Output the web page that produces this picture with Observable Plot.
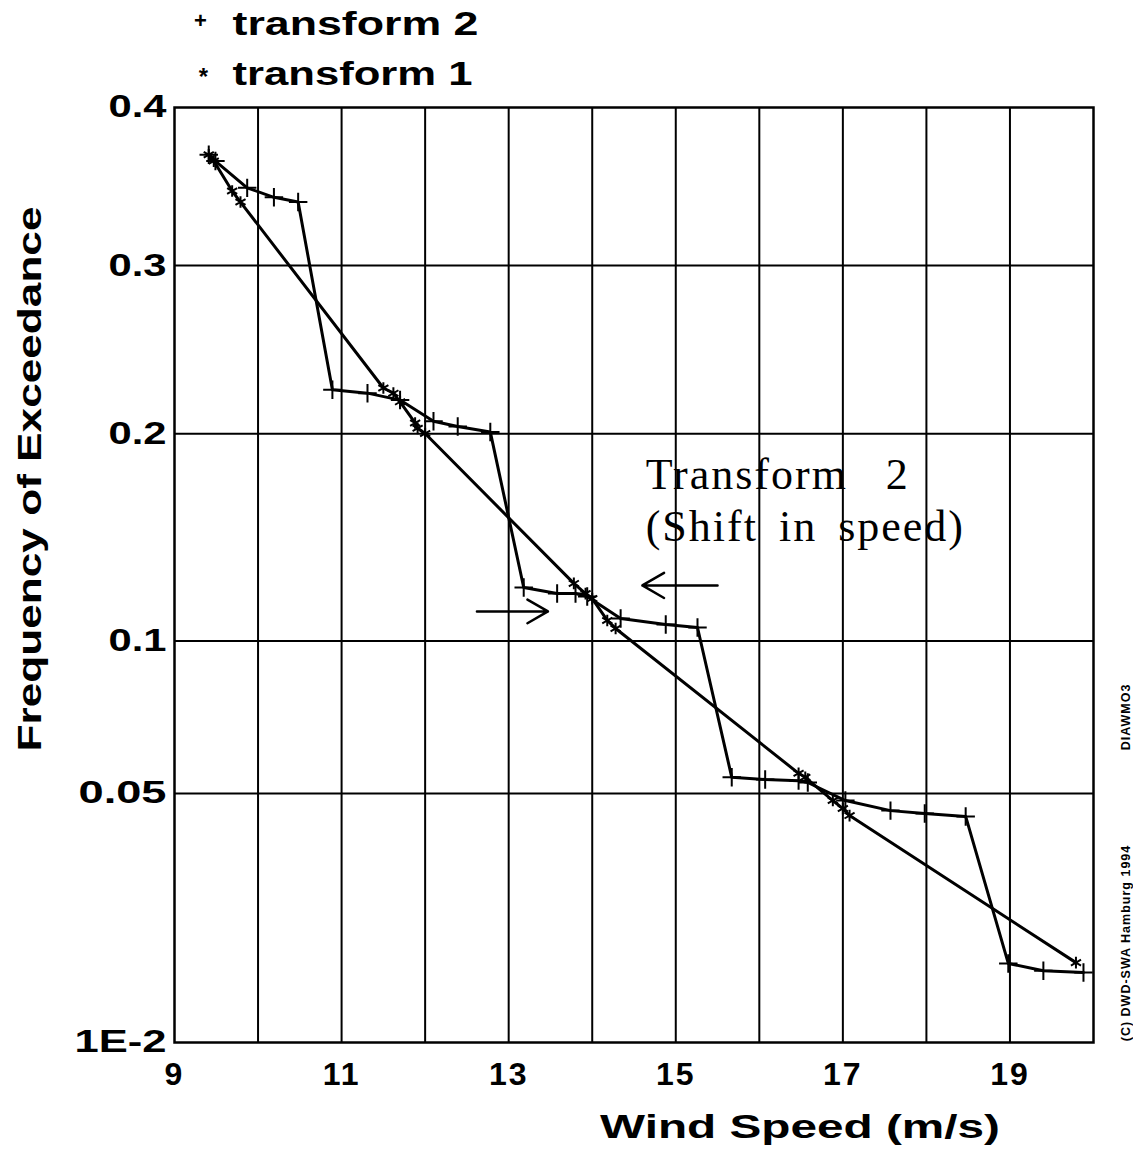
<!DOCTYPE html>
<html>
<head>
<meta charset="utf-8">
<script src="https://cdn.jsdelivr.net/npm/d3@7"></script>
<script src="https://cdn.jsdelivr.net/npm/@observablehq/plot@0.6"></script>
<style>
html, body { margin: 0; padding: 0; background: #fff; }
</style>
</head>
<body>
<div id="chart"></div>
<script>
// ---- data ----
const t2Speed = [9.41, 9.49, 9.87, 10.19, 10.48, 10.89, 11.31, 11.70, 12.10, 12.39, 12.78,
                 13.18, 13.58, 13.80, 13.94, 14.34, 14.88, 15.26,
                 15.67, 16.07, 16.47, 16.58, 17.03, 17.57, 17.98, 18.47,
                 18.98, 19.40, 19.88];
const t2Freq  = [0.370, 0.366, 0.349, 0.343, 0.340, 0.225, 0.223, 0.219, 0.207, 0.204, 0.201,
                 0.1226, 0.1199, 0.1199, 0.1186, 0.1092, 0.1067, 0.1055,
                 0.0543, 0.0537, 0.0534, 0.0529, 0.0482, 0.0457, 0.0450, 0.0443,
                 0.0180, 0.0171, 0.0169];
const t1Speed = [9.41, 9.47, 9.69, 9.79, 11.50, 11.62, 11.70, 11.88, 11.91, 12.00,
                 13.78, 13.92, 14.00, 14.18, 14.28,
                 16.47, 16.55, 16.88, 17.00, 17.08, 19.79];
const t1Freq  = [0.370, 0.366, 0.347, 0.340, 0.226, 0.223, 0.218, 0.206, 0.203, 0.2001,
                 0.1244, 0.1199, 0.1177, 0.1084, 0.1051,
                 0.0554, 0.0543, 0.0482, 0.0462, 0.0445, 0.0181];

const xTickValues = [9, 11, 13, 15, 17, 19];
const xGridValues = [10, 11, 12, 13, 14, 15, 16, 17, 18, 19];
const yTickValues = [0.4, 0.3, 0.2, 0.1, 0.05, 0.01];
const yTickLabels = ["0.4", "0.3", "0.2", "0.1", "0.05", "1E-2"];
const yGridValues = [0.3, 0.2, 0.1, 0.05];

const legendSymbols = ["+", "*"];
const legendLabels = ["transform 2", "transform 1"];
const xLabel = "Wind Speed (m/s)";
const yLabel = "Frequency of Exceedance";
const creditLines = ["(C) DWD-SWA Hamburg 1994", "DIAWMO3"];

const annotationLines = ["Transform 2", "(Shift in speed)"];
const annotationSpeed = 14.64;
const annotationFreq = [0.1778, 0.1512];
const arrowSpeedFrom = [12.62, 15.50];
const arrowSpeedTo = [13.47, 14.60];
const arrowFreq = [0.1122, 0.1235];

// ---- derived tables ----
const weibull = p => Math.log(-Math.log(p));
const t2 = t2Speed.map((s, i) => ({speed: s, freq: t2Freq[i]}));
const t1 = t1Speed.map((s, i) => ({speed: s, freq: t1Freq[i]}));
const arrows = arrowSpeedFrom.map((s, i) => ({x1: s, x2: arrowSpeedTo[i], y: arrowFreq[i]}));
const annotations = annotationLines.map((t, i) => ({text: t, x: annotationSpeed, y: annotationFreq[i]}));

const bold = {fontWeight: "bold", fill: "black"};

const chart = Plot.plot({
  width: 1133,
  height: 1155,
  marginLeft: 174,
  marginRight: 40,
  marginTop: 107,
  marginBottom: 113,
  x: {domain: [9, 20], axis: null},
  y: {transform: weibull, domain: [weibull(0.01), weibull(0.4)], axis: null},
  style: {fontFamily: "'Liberation Sans', Arial, sans-serif", background: "white", color: "black", overflow: "visible"},
  marks: [
    Plot.ruleX(xGridValues, {stroke: "black", strokeWidth: 2}),
    Plot.ruleY(yGridValues, {stroke: "black", strokeWidth: 2}),
    Plot.frame({stroke: "black", strokeWidth: 2.5}),
    Plot.line(t1, {x: "speed", y: "freq", stroke: "black", strokeWidth: 3}),
    Plot.line(t2, {x: "speed", y: "freq", stroke: "black", strokeWidth: 3}),
    Plot.dot(t1, {x: "speed", y: "freq", symbol: "asterisk", r: 5.5, stroke: "black", strokeWidth: 2}),
    Plot.dot(t2, {x: "speed", y: "freq", symbol: "plus", r: 6, stroke: "black", strokeWidth: 2}),
    // y tick labels
    Plot.text(yTickValues, {y: d => d, text: (d, i) => yTickLabels[i], frameAnchor: "left", textAnchor: "end", dx: -8, fontSize: 31, ...bold}),
    // x tick labels
    Plot.text(xTickValues, {x: d => d, text: d => String(d), frameAnchor: "bottom", textAnchor: "middle", dy: 42, fontSize: 32, ...bold}),
    // axis labels
    Plot.text([xLabel], {frameAnchor: "bottom", textAnchor: "middle", dx: 166, dy: 95, fontSize: 33, ...bold}),
    Plot.text([yLabel], {frameAnchor: "left", textAnchor: "middle", dx: -144, dy: -96, rotate: -90, fontSize: 33, ...bold}),
    // legend
    Plot.text([legendSymbols[0]], {frameAnchor: "top-left", textAnchor: "middle", dx: 26, dy: -95, fontSize: 22, ...bold}),
    Plot.text([legendLabels[0]], {frameAnchor: "top-left", dx: 58, dy: -96, textAnchor: "start", fontSize: 33, ...bold}),
    Plot.text([legendSymbols[1]], {frameAnchor: "top-left", textAnchor: "middle", dx: 29, dy: -40, fontSize: 24, ...bold}),
    Plot.text([legendLabels[1]], {frameAnchor: "top-left", dx: 58, dy: -46, textAnchor: "start", fontSize: 33, ...bold}),
    // credits
    Plot.text([creditLines[0]], {frameAnchor: "right", textAnchor: "middle", dx: 32, dy: 368, rotate: -90, fontSize: 12.5, ...bold}),
    Plot.text([creditLines[1]], {frameAnchor: "right", textAnchor: "middle", dx: 32, dy: 142, rotate: -90, fontSize: 12.5, ...bold}),
    // annotation
    Plot.text(annotations, {x: "x", y: "y", text: "text", textAnchor: "start", fontSize: 44, fontFamily: "'Liberation Serif', 'Times New Roman', serif", fill: "black"}),
    Plot.arrow(arrows, {x1: "x1", x2: "x2", y1: "y", y2: "y", stroke: "black", strokeWidth: 2.5, headLength: 20, headAngle: 60})
  ]
});

document.getElementById("chart").appendChild(chart);

// lettering widths / spacing of the original (wide, heavy lettering)
const lettering = new Map([
  ["0.4", {len: 58}], ["0.3", {len: 58}], ["0.2", {len: 58}], ["0.1", {len: 58}],
  ["0.05", {len: 88}], ["1E-2", {len: 92}],
  [xLabel, {len: 400}],
  [yLabel, {len: 545}],
  [legendLabels[0], {len: 246}],
  [legendLabels[1], {len: 240}],
  [creditLines[0], {ls: 1}],
  [creditLines[1], {ls: 1}],
  [annotationLines[0], {ls: 2, ws: 25}],
  [annotationLines[1], {ls: 2, ws: 8}]
]);
xTickValues.forEach(t => lettering.set(String(t), {ls: 2}));
d3.select(chart).selectAll("text").each(function() {
  const s = lettering.get(this.textContent);
  if (!s) return;
  if (s.len) {
    this.setAttribute("textLength", s.len);
    this.setAttribute("lengthAdjust", "spacingAndGlyphs");
  }
  if (s.ls) this.setAttribute("letter-spacing", s.ls);
  if (s.ws) this.setAttribute("word-spacing", s.ws);
});
</script>
</body>
</html>
